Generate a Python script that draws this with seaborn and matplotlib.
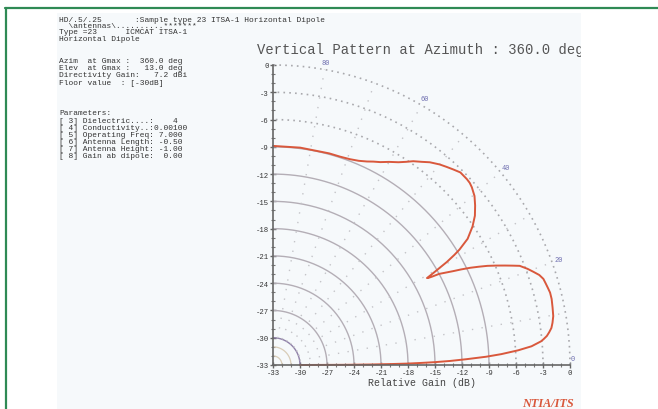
import numpy as np
import pandas as pd
import matplotlib
matplotlib.use("Agg")
import matplotlib.pyplot as plt
from matplotlib.lines import Line2D
import seaborn as sns

# ---- data ----
elev_deg = [0.0, 0.15, 0.3, 0.45, 0.6, 0.8, 1.0, 1.3, 1.7, 2.2, 2.7, 3.4, 4.1,
            4.6, 5.0, 5.4, 6.0, 6.7, 7.5, 8.5, 9.8, 11.5, 13.2, 14.5, 15.5,
            16.5, 17.5, 18.5, 19.5, 20.5, 21.7, 22.3, 23.0, 23.8, 24.6, 25.3,
            26.0, 26.7, 27.3, 28.0, 28.5, 28.8, 29.0, 29.2, 29.6, 30.0, 30.4,
            31.0, 31.5, 32.7, 34.5, 36.2, 38.0, 39.7, 41.5, 42.5, 43.5, 45.5,
            47.0, 48.5, 50.0, 52.0, 53.5, 55.2, 56.5, 58.0, 60.0, 61.9, 63.5,
            65.0, 67.0, 69.3, 72.0, 75.0, 82.8, 90.0]
gain_db = [-30.0, -25.0, -22.0, -20.0, -18.0, -16.5, -15.0, -13.3, -11.5,
           -9.3, -7.6, -5.7, -4.2, -3.6, -3.1, -2.8, -2.4, -2.1, -1.8, -1.6,
           -1.4, -1.3, -1.2, -1.2, -1.3, -1.4, -1.5, -1.8, -2.3, -2.8, -3.5,
           -4.2, -5.0, -5.9, -6.8, -7.7, -8.6, -9.6, -10.5, -11.4, -12.0,
           -12.8, -13.2, -13.4, -12.5, -11.6, -10.6, -9.5, -8.7, -7.3, -6.1,
           -5.2, -4.5, -3.9, -3.5, -3.35, -3.3, -3.3, -3.6, -3.9, -4.2, -4.7,
           -5.2, -5.7, -6.2, -6.7, -7.2, -7.7, -8.0, -8.3, -8.6, -8.8, -8.9,
           -8.9, -8.9, -8.9]
tick_vals = [-33, -30, -27, -24, -21, -18, -15, -12, -9, -6, -3, 0]
solid_rings = [-30, -27, -24, -21, -18, -15, -12, -9]
faint_rings = [-32, -31]
dotted_rings = [-6, -3, 0]
spoke_angles = [10, 20, 30, 40, 50, 60, 70, 80]
angle_labels = [80, 60, 40, 20, 0]

header_lines = [
    ("HD/.5/.25       :Sample type 23 ITSA-1 Horizontal Dipole", 21),
    ("  \\antennas\\..........*******", 26.5),
    ("Type =23      ICMCAT ITSA-1", 32.5),
    ("Horizontal Dipole", 40),
    ("Azim  at Gmax :  360.0 deg", 62),
    ("Elev  at Gmax :   13.0 deg", 69),
    ("Directivity Gain:   7.2 dBi", 76),
    ("Floor value  : [-30dB]", 84),
    ("Parameters:", 114),
    ("[ 3] Dielectric....:    4", 122),
    ("[ 4] Conductivity..:0.00100", 129),
    ("[ 5] Operating Freq: 7.000", 136),
    ("[ 6] Antenna Length: -0.50", 143),
    ("[ 7] Antenna Height: -1.00", 150),
    ("[ 8] Gain ab dipole:  0.00", 157),
]
title_text = "Vertical Pattern at Azimuth : 360.0 deg"
x_label = "Relative Gain (dB)"
logo_text = "NTIA/ITS"

# ---- figure ----
sns.set_theme(style="white")
mono = ["Liberation Mono", "DejaVu Sans Mono"]
plt.rcParams["font.family"] = mono

W, H = 658, 410
fig = plt.figure(figsize=(W / 100, H / 100), dpi=100)
fig.patch.set_facecolor("white")

def fx(px):
    return px / W

def fy(py):
    return 1 - py / H

# light panel
bg = fig.add_axes([fx(57), 0, fx(581) - fx(57), fy(14)])
bg.set_facecolor("#f6f9fb")
bg.set_xlim(57, 581)
bg.set_ylim(410, 14)
bg.set_xticks([])
bg.set_yticks([])
for s in bg.spines.values():
    s.set_visible(False)
bg.text(257, 50, title_text, fontsize=10, color="#555555", va="center",
        ha="left", clip_on=True, family=mono)
for txt, yy in header_lines:
    bg.text(59, yy, txt, fontsize=5.7, color="#333333", va="center",
            ha="left", family=mono)

# green frame
fig.add_artist(Line2D([fx(5), 1], [fy(9), fy(9)], color="#2f8a55", lw=1.6,
                      transform=fig.transFigure))
fig.add_artist(Line2D([fx(5.5), fx(5.5)], [fy(9), 0], color="#2f8a55", lw=1.6,
                      transform=fig.transFigure))

# main axes
ax = fig.add_axes([fx(273), fy(366), fx(570) - fx(273), fy(66) - fy(366)])
ax.set_facecolor("none")
ax.set_xlim(-33, 0)
ax.set_ylim(-33, 0)

th = np.radians(np.linspace(0, 90, 200))
for g in faint_rings:
    r = g + 33
    ax.plot(-33 + r * np.cos(th), -33 + r * np.sin(th), color="#d9cdb8",
            lw=0.9, clip_on=False)
for g in solid_rings:
    r = g + 33
    col = "#8f80a8" if g == -30 else "#b4aeb6"
    ax.plot(-33 + r * np.cos(th), -33 + r * np.sin(th), color=col,
            lw=1.0, clip_on=False)
for g in dotted_rings:
    r = g + 33
    ax.plot(-33 + r * np.cos(th), -33 + r * np.sin(th), color="#a9a9ad",
            lw=1.2, ls=(0, (1, 2.5)), clip_on=False)
for a in spoke_angles:
    t = np.radians(a)
    ax.plot([-33 + 3 * np.cos(t), -33 + 33 * np.cos(t)],
            [-33 + 3 * np.sin(t), -33 + 33 * np.sin(t)],
            color="#c4c4c8", lw=1.0, ls=(0, (1, 6)), clip_on=False)
for a in angle_labels:
    t = np.radians(a)
    rr = 33.8 if a > 0 else 33.3
    yoff = 0.7 if a == 0 else 0
    ax.text(-33 + rr * np.cos(t), -33 + rr * np.sin(t) + yoff, str(a),
            fontsize=5, color="#6f6fb0", ha="center", va="center",
            clip_on=False)

# pattern curve
ang = np.radians(np.array(elev_deg))
rad = np.array(gain_db) + 33
df = pd.DataFrame({"x": -33 + rad * np.cos(ang), "y": -33 + rad * np.sin(ang)})
sns.lineplot(data=df, x="x", y="y", sort=False, estimator=None, ax=ax,
             color="#d9583c", lw=1.4)
for l in ax.lines:
    l.set_clip_on(False)
    l.set_solid_joinstyle("round")

# axes styling
for s in ["top", "right"]:
    ax.spines[s].set_visible(False)
for s in ["left", "bottom"]:
    ax.spines[s].set_color("#666666")
    ax.spines[s].set_linewidth(1.2)
ax.set_xticks(tick_vals)
ax.set_yticks(tick_vals)
ax.set_xticklabels([str(v) for v in tick_vals])
ax.set_yticklabels([str(v) for v in tick_vals])
ax.set_xticks(np.arange(-33, 1, 1), minor=True)
ax.set_yticks(np.arange(-33, 1, 1), minor=True)
ax.tick_params(which="major", direction="inout", length=4, width=1,
               color="#666666", labelsize=5.2, labelcolor="#333333", pad=1)
ax.tick_params(which="minor", direction="inout", length=2.5, width=0.8,
               color="#777777")
ax.tick_params(axis="x", which="both", bottom=True)
ax.tick_params(axis="y", which="both", left=True)
ax.set_xlabel(x_label, fontsize=7.2, color="#444444", labelpad=0.5)
ax.set_ylabel("")

fig.text(fx(548), fy(404), logo_text, fontsize=8.8, color="#d9583c",
         ha="center", va="center", family=["Liberation Serif", "DejaVu Serif"],
         fontweight="bold", fontstyle="italic")

fig.savefig("out.png", dpi=100)
